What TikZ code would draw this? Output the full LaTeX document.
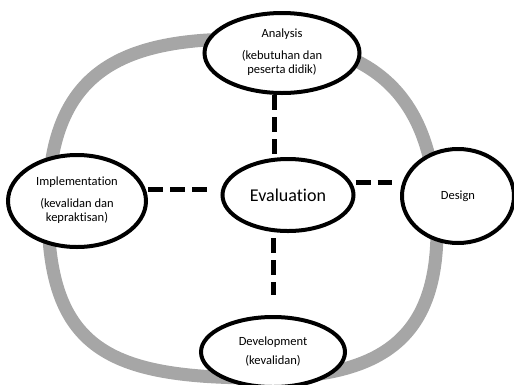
\documentclass[tikz,border=0pt]{standalone}
\usepackage{fontspec}
\setmainfont{Carlito}[Ligatures={NoCommon,NoContextual}]
\usetikzlibrary{shapes.geometric}
\newcommand{\phtext}[2]{\raisebox{#1}{\begin{tabular}{@{}c@{}}#2\end{tabular}}}
\begin{document}
\begin{tikzpicture}[x=1pt,y=-1pt,
  phase/.style={ellipse,draw=black,line width=4pt,fill=white,inner sep=0pt,align=center,
    font=\fontsize{12.5}{14.5}\selectfont},
  ring/.style={draw=ringgray,line width=13pt},
  conn/.style={draw=black,line width=5pt,dash pattern=on 15pt off 7pt}]
\definecolor{ringgray}{HTML}{A6A6A6}
\useasboundingbox (0,0) rectangle (514,384);
\draw[ring] (48,210) .. controls (48,80) and (110,39) .. (240,39)
  .. controls (370,39) and (437,90) .. (437,230)
  .. controls (437,340) and (380,378) .. (260,378)
  .. controls (110,378) and (48,350) .. (48,210) -- cycle;
\node[phase,minimum width=155pt,minimum height=80pt] (ana) at (282,53)
 {\phtext{-7pt}{Analysis\\[7pt](kebutuhan dan\\peserta didik)}};
\node[phase,minimum width=131pt,minimum height=72pt,font=\fontsize{18}{20}\selectfont] (eva) at (288,195) {Evaluation};
\node[phase,minimum width=112pt,minimum height=94pt] (des) at (458,196) {Design};
\node[phase,minimum width=138pt,minimum height=92pt] (imp) at (77,201)
 {\phtext{0pt}{Implementation\\[7pt](kevalidan dan\\kepraktisan)}};
\node[phase,minimum width=144pt,minimum height=70pt] (dev) at (273,352)
 {\phtext{9pt}{Development\\[5pt](kevalidan)}};
\draw[conn] ([xshift=-8pt]ana.south) -- ([xshift=-14pt]eva.north);
\draw[conn] ([xshift=-15pt,yshift=-5pt]eva.south) -- ([xshift=0pt,yshift=20pt]dev.north);
\draw[conn] (imp.east |- 0,189) -- ([xshift=-10pt]eva.west |- 0,189);
\draw[conn] (eva.east |- 0,182) -- ([xshift=-8pt]des.west |- 0,182);
\end{tikzpicture}
\end{document}
